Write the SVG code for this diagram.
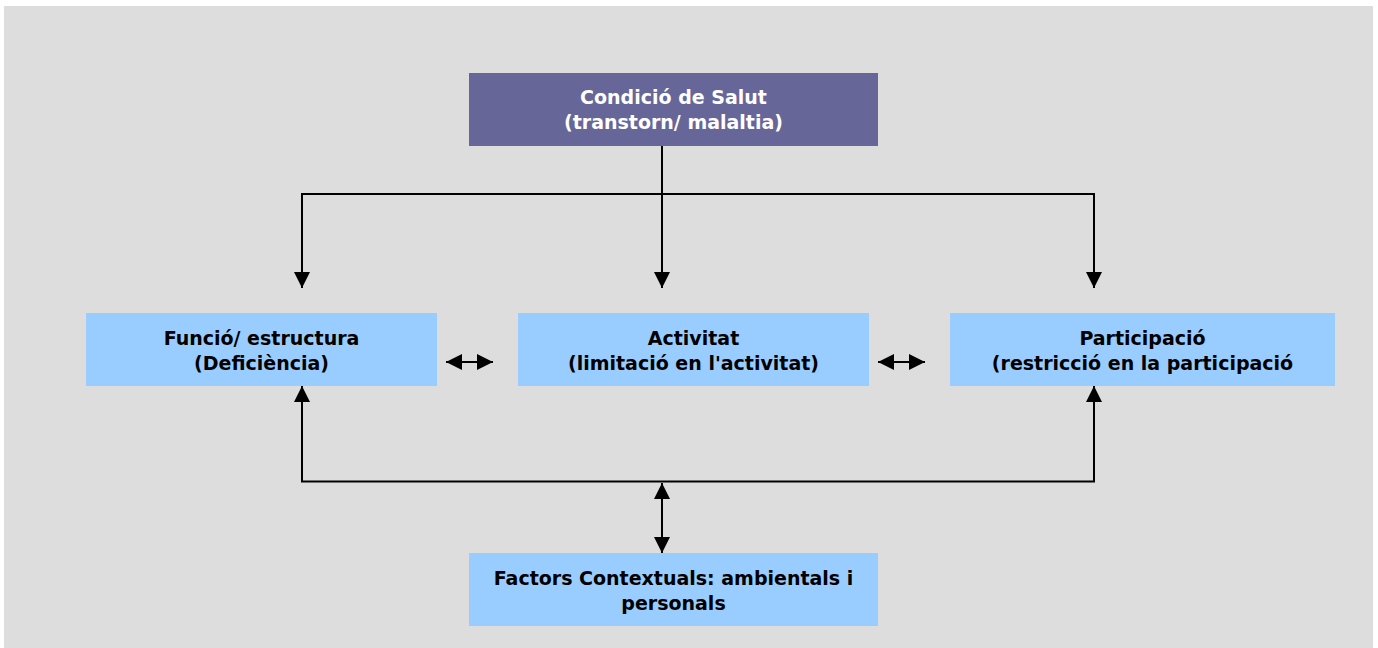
<svg xmlns="http://www.w3.org/2000/svg" width="1378" height="648" viewBox="0 0 1378 648">
  <style>
    .bg { fill: #DDDDDD; }
    .top { fill: #666699; }
    .lite { fill: #99CCFF; }
    .t { font-family: "DejaVu Sans", Verdana, sans-serif; font-weight: bold; font-size: 19px; text-anchor: middle; }
    .tw { fill: #FFFFFF; }
    .tb { fill: #000000; }
    .ln { fill: none; stroke: #000000; stroke-width: 2; }
  </style>
  <defs>
    <marker id="ah" viewBox="0 0 16 16" markerUnits="userSpaceOnUse" markerWidth="16" markerHeight="16" refX="16" refY="8" orient="auto-start-reverse">
      <path d="M0,0 L16,8 L0,16 z" fill="#000000"/>
    </marker>
  </defs>
  <rect class="bg" x="4" y="6" width="1369" height="642"/>

  <g id="connectors">
    <path class="ln" d="M662,146 V288" marker-end="url(#ah)"/>
    <path class="ln" d="M302,288 V194 H1094 V288" marker-start="url(#ah)" marker-end="url(#ah)"/>
    <path class="ln" d="M302,386 V481.5 H1094 V386" marker-start="url(#ah)" marker-end="url(#ah)"/>
    <path class="ln" d="M662,483 V553" marker-start="url(#ah)" marker-end="url(#ah)"/>
    <path class="ln" d="M446,362 H493" marker-start="url(#ah)" marker-end="url(#ah)"/>
    <path class="ln" d="M878,362 H925" marker-start="url(#ah)" marker-end="url(#ah)"/>
  </g>

  <g id="condicio">
    <rect class="top" x="469" y="73" width="409" height="73"/>
    <text class="t tw" x="673.5" y="104">Condició de Salut</text>
    <text class="t tw" x="673.5" y="129">(transtorn/ malaltia)</text>
  </g>

  <g id="funcio">
    <rect class="lite" x="86" y="313" width="351" height="73"/>
    <text class="t tb" x="261.5" y="345">Funció/ estructura</text>
    <text class="t tb" x="261.5" y="370">(Deficiència)</text>
  </g>

  <g id="activitat">
    <rect class="lite" x="518" y="313" width="351" height="73"/>
    <text class="t tb" x="693.5" y="345">Activitat</text>
    <text class="t tb" x="693.5" y="370">(limitació en l'activitat)</text>
  </g>

  <g id="participacio">
    <rect class="lite" x="950" y="313" width="385" height="73"/>
    <text class="t tb" x="1142.5" y="345">Participació</text>
    <text class="t tb" x="1142.5" y="370">(restricció en la participació</text>
  </g>

  <g id="factors">
    <rect class="lite" x="469" y="553" width="409" height="73"/>
    <text class="t tb" x="673.5" y="585">Factors Contextuals: ambientals i</text>
    <text class="t tb" x="673.5" y="610">personals</text>
  </g>
</svg>
